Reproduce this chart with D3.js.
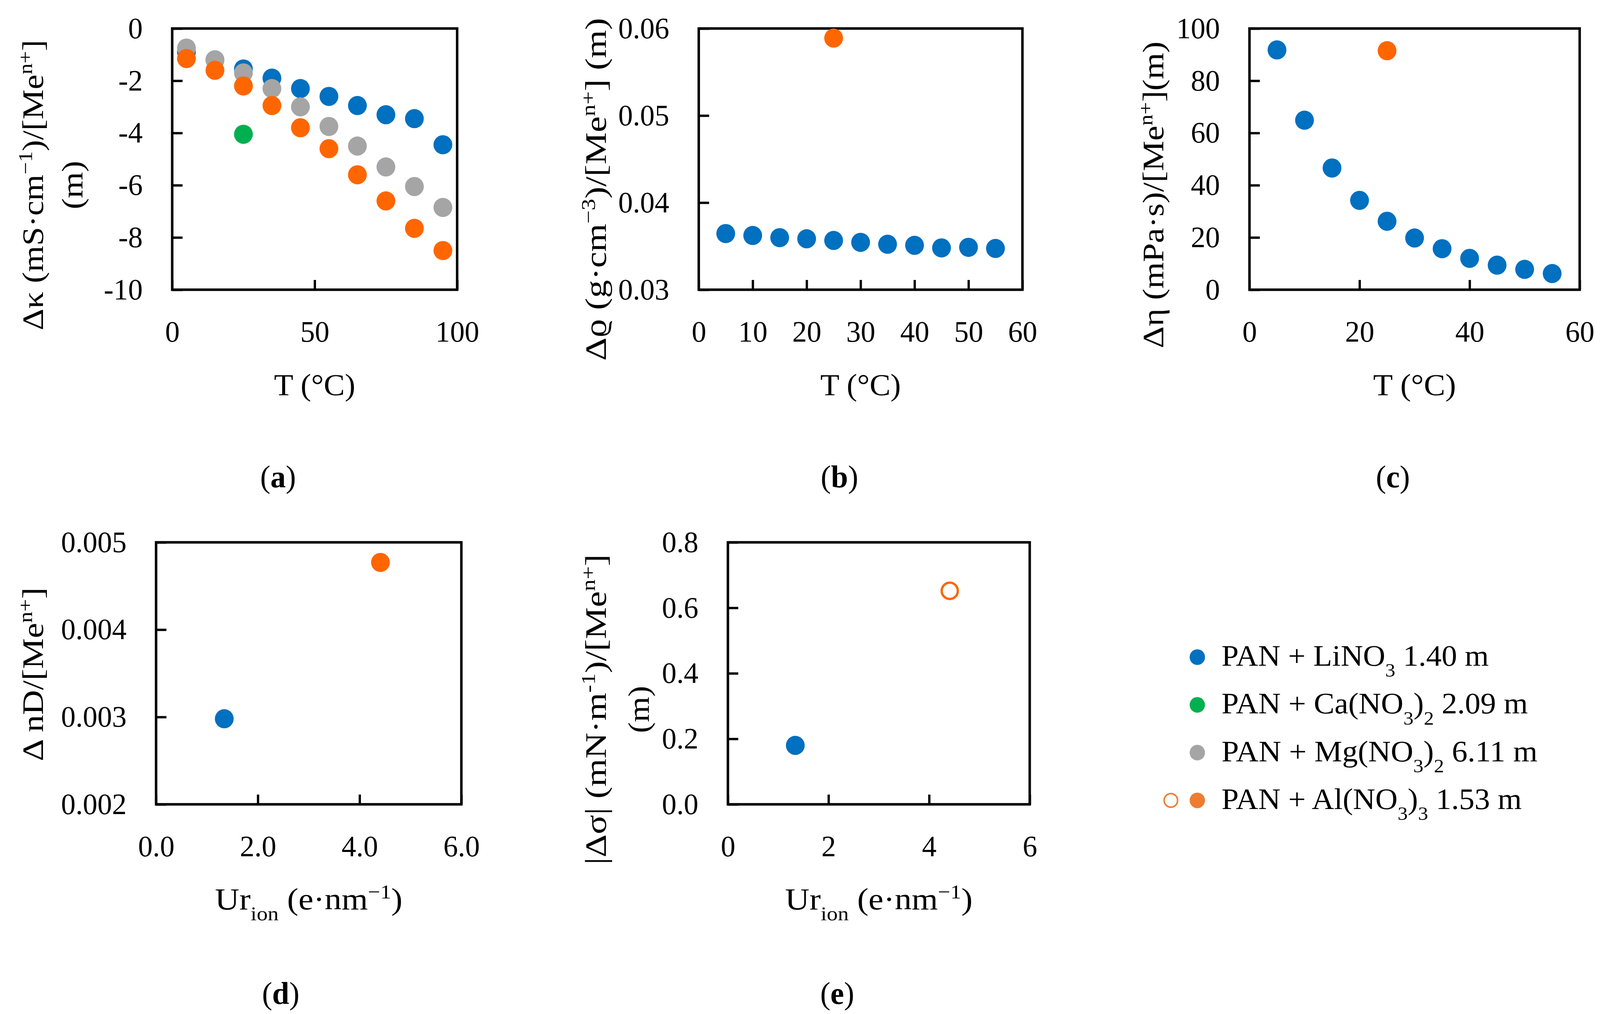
<!DOCTYPE html>
<html>
<head>
<meta charset="utf-8">
<script src="https://cdn.jsdelivr.net/npm/d3@7"></script>
<style>
  html, body { margin: 0; padding: 0; background: #fff; overflow: hidden; }
  svg { display: block; }
  text { font-family: "Liberation Serif", "DejaVu Serif", serif; fill: #000; }
</style>
</head>
<body>
<div id="chart"></div>
<script>
// (a) conductivity vs T
const tempK   = [5, 15, 25, 35, 45, 55, 65, 75, 85, 95];
const kappaLi = [-0.9, -1.2, -1.55, -1.9, -2.3, -2.6, -2.95, -3.3, -3.45, -4.45];
const kappaMg = [-0.75, -1.2, -1.7, -2.3, -3.0, -3.75, -4.5, -5.3, -6.05, -6.85];
const kappaAl = [-1.15, -1.6, -2.2, -2.95, -3.8, -4.6, -5.6, -6.6, -7.65, -8.5];
const tempCa  = [25];
const kappaCa = [-4.05];

// (b) density, (c) viscosity vs T
const tempT  = [5, 10, 15, 20, 25, 30, 35, 40, 45, 50, 55];
const rhoLi  = [0.03645, 0.03623, 0.03598, 0.03585, 0.03566, 0.03544, 0.03522, 0.0351, 0.0348, 0.03487, 0.03474];
const etaLi  = [91.8, 64.9, 46.6, 34.2, 26.2, 19.8, 15.7, 12.0, 9.4, 7.8, 6.2];
const tempAl = [25];
const rhoAl  = [0.0589];
const etaAl  = [91.5];

// (d) refractive index, (e) surface tension vs Ur_ion
const urLi    = [1.34];
const urAl    = [4.41];
const nDLi    = [0.00298];
const nDAl    = [0.00477];
const sigmaLi = [0.18];
const sigmaAl = [0.652];

// tick values
const ticksKx = [0, 50, 100];
const ticksKy = [0, -2, -4, -6, -8, -10];
const ticksRx = [0, 10, 20, 30, 40, 50, 60];
const ticksRy = [0.03, 0.04, 0.05, 0.06];
const ticksEx = [0, 20, 40, 60];
const ticksEy = [0, 20, 40, 60, 80, 100];
const ticksUx = [0, 2, 4, 6];
const ticksNy = [0.002, 0.003, 0.004, 0.005];
const ticksSy = [0, 0.2, 0.4, 0.6, 0.8];

const legendLabels = [
  [["PAN + LiNO"], ["3", "sub"], [" 1.40 m"]],
  [["PAN + Ca(NO"], ["3", "sub"], [")"], ["2", "sub"], [" 2.09 m"]],
  [["PAN + Mg(NO"], ["3", "sub"], [")"], ["2", "sub"], [" 6.11 m"]],
  [["PAN + Al(NO"], ["3", "sub"], [")"], ["3", "sub"], [" 1.53 m"]]
];

const blue = "#0070C0", green = "#00B050", grey = "#A5A5A5", orange = "#FF6600";
const tickFont = 76, titleFont = 78;

// drawn in 4172x2597 units, stretched onto whatever the window is
const svg = d3.select("#chart").append("svg")
    .attr("viewBox", "0 0 4172 2597")
    .attr("preserveAspectRatio", "none")
    .style("width", "100vw")
    .style("height", "100vh");

svg.append("rect").attr("width", 4172).attr("height", 2597).attr("fill", "#fff");

// text with sub/superscript pieces
function rich(sel, parts, size) {
  parts.forEach(p => {
    let t = sel.append("tspan").text(p[0]);
    if (p[1] === "sup") t.attr("font-size", size * 0.65).attr("baseline-shift", "super");
    if (p[1] === "sub") t.attr("font-size", size * 0.65).attr("baseline-shift", "sub");
    if (p[1] === "bold") t.attr("font-weight", "bold");
  });
  return sel;
}

function panel(cfg) {
  let g = svg.append("g");
  let x = d3.scaleLinear().domain(cfg.xDomain).range([cfg.left, cfg.right]);
  let y = d3.scaleLinear().domain(cfg.yDomain).range([cfg.bottom, cfg.top]);

  g.append("rect")
      .attr("x", cfg.left)
      .attr("y", cfg.top)
      .attr("width", cfg.right - cfg.left)
      .attr("height", cfg.bottom - cfg.top)
      .attr("fill", "none")
      .attr("stroke", "#000")
      .attr("stroke-width", 6.5);

  let xAxis = g.append("g")
      .attr("transform", `translate(0, ${cfg.bottom})`)
      .call(d3.axisBottom(x).tickValues(cfg.xTicks).tickFormat(cfg.xFormat)
        .tickSizeInner(-25).tickSizeOuter(0).tickPadding(79));
  let yAxis = g.append("g")
      .attr("transform", `translate(${cfg.left}, 0)`)
      .call(d3.axisLeft(y).tickValues(cfg.yTicks).tickFormat(cfg.yFormat)
        .tickSizeInner(-27).tickSizeOuter(0).tickPadding(77));

  [xAxis, yAxis].forEach(a => {
    a.select(".domain").remove();
    a.selectAll("line").attr("stroke", "#000").attr("stroke-width", 6);
    a.selectAll("text")
        .attr("font-family", "Liberation Serif, DejaVu Serif, serif")
        .attr("font-size", tickFont)
        .attr("fill", "#000");
  });

  cfg.series.forEach(s => {
    g.selectAll(null)
      .data(s.x.map((v, i) => [v, s.y[i]]))
      .enter()
      .append("circle")
        .attr("cx", d => x(d[0]))
        .attr("cy", d => y(d[1]))
        .attr("r", s.open ? 21 : 24.5)
        .attr("fill", s.open ? "#fff" : s.color)
        .attr("stroke", s.open ? s.color : "none")
        .attr("stroke-width", s.open ? 6 : 0);
  });

  // x title
  rich(g.append("text")
      .attr("x", (cfg.left + cfg.right) / 2 - cfg.xLen / 2)
      .attr("y", cfg.xTitleY)
      .attr("font-size", titleFont)
      .attr("textLength", cfg.xLen)
      .attr("lengthAdjust", "spacingAndGlyphs"), cfg.xTitle, titleFont);

  // y title, one or two rotated lines
  cfg.yTitle.forEach(line => {
    rich(g.append("text")
        .attr("transform", `translate(${line.x}, ${cfg.yTitleC}) rotate(-90)`)
        .attr("x", -line.len / 2)
        .attr("y", 0)
        .attr("font-size", titleFont)
        .attr("textLength", line.len)
        .attr("lengthAdjust", "spacingAndGlyphs"), line.parts, titleFont);
  });

  // panel label
  g.append("text")
      .attr("x", cfg.labelX)
      .attr("y", cfg.labelY)
      .attr("text-anchor", "middle")
      .attr("font-size", 80)
      .call(t => rich(t, [["("], [cfg.label, "bold"], [")"]], 80));
}

const tTitle = [["T (°C)"]];
const urTitle = [["Ur"], ["ion", "sub"], [" (e·nm"], ["−1", "sup"], [")"]];

panel({
  left: 449, right: 1192, top: 73, bottom: 742,
  xDomain: [0, 100], yDomain: [-10, 0],
  xTicks: ticksKx, yTicks: ticksKy,
  xFormat: d3.format("d"), yFormat: d => String(d),
  series: [
    { x: tempK, y: kappaLi, color: blue },
    { x: tempCa, y: kappaCa, color: green },
    { x: tempK, y: kappaMg, color: grey },
    { x: tempK, y: kappaAl, color: orange }
  ],
  xTitle: tTitle, xLen: 212, xTitleY: 1012,
  yTitleC: 474,
  yTitle: [
    { x: 112, len: 744, parts: [["Δκ (mS·cm"], ["−1", "sup"], [")/[Me"], ["n+", "sup"], ["]"]] },
    { x: 215, len: 124, parts: [["(m)"]] }
  ],
  label: "a", labelX: 725, labelY: 1248
});

panel({
  left: 1822, right: 2666, top: 73, bottom: 742,
  xDomain: [0, 60], yDomain: [0.03, 0.06],
  xTicks: ticksRx, yTicks: ticksRy,
  xFormat: d3.format("d"), yFormat: d3.format(".2f"),
  series: [
    { x: tempT, y: rhoLi, color: blue },
    { x: tempAl, y: rhoAl, color: orange }
  ],
  xTitle: tTitle, xLen: 210, xTitleY: 1012,
  yTitleC: 485,
  yTitle: [
    { x: 1580, len: 878, parts: [["Δϱ (g·cm"], ["−3", "sup"], [")/[Me"], ["n+", "sup"], ["] (m)"]] }
  ],
  label: "b", labelX: 2189, labelY: 1248
});

panel({
  left: 3258, right: 4119, top: 73, bottom: 742,
  xDomain: [0, 60], yDomain: [0, 100],
  xTicks: ticksEx, yTicks: ticksEy,
  xFormat: d3.format("d"), yFormat: d3.format("d"),
  series: [
    { x: tempT, y: etaLi, color: blue },
    { x: tempAl, y: etaAl, color: orange }
  ],
  xTitle: tTitle, xLen: 216, xTitleY: 1012,
  yTitleC: 499,
  yTitle: [
    { x: 3033, len: 786, parts: [["Δη (mPa·s)/[Me"], ["n+", "sup"], ["](m)"]] }
  ],
  label: "c", labelX: 3632, labelY: 1248
});

panel({
  left: 407, right: 1203, top: 1389, bottom: 2060,
  xDomain: [0, 6], yDomain: [0.002, 0.005],
  xTicks: ticksUx, yTicks: ticksNy,
  xFormat: d3.format(".1f"), yFormat: d3.format(".3f"),
  series: [
    { x: urLi, y: nDLi, color: blue },
    { x: urAl, y: nDAl, color: orange }
  ],
  xTitle: urTitle, xLen: 489, xTitleY: 2329,
  yTitleC: 1727,
  yTitle: [
    { x: 112, len: 445, parts: [["Δ nD/[Me"], ["n+", "sup"], ["]"]] }
  ],
  label: "d", labelX: 732, labelY: 2571
});

panel({
  left: 1898, right: 2685, top: 1389, bottom: 2060,
  xDomain: [0, 6], yDomain: [0, 0.8],
  xTicks: ticksUx, yTicks: ticksSy,
  xFormat: d3.format("d"), yFormat: d3.format(".1f"),
  series: [
    { x: urLi, y: sigmaLi, color: blue },
    { x: urAl, y: sigmaAl, color: orange, open: true }
  ],
  xTitle: urTitle, xLen: 489, xTitleY: 2329,
  yTitleC: 1817,
  yTitle: [
    { x: 1580, len: 795, parts: [["|Δσ|  (mN·m"], ["-1", "sup"], [")/[Me"], ["n+", "sup"], ["]"]] },
    { x: 1692, len: 121, parts: [["(m)"]] }
  ],
  label: "e", labelX: 2183, labelY: 2571
});

// legend
const legendColors = [blue, green, grey, "#ED7D31"];
const legendLens = [697, 799, 824, 783];
let legend = svg.append("g");
legendLabels.forEach((parts, i) => {
  let cy = 1683 + i * 122.3;
  legend.append("circle")
      .attr("cx", 3122).attr("cy", cy).attr("r", 20)
      .attr("fill", legendColors[i]);
  if (i === 3) {
    legend.append("circle")
        .attr("cx", 3053).attr("cy", cy).attr("r", 17.5)
        .attr("fill", "#fff")
        .attr("stroke", legendColors[i])
        .attr("stroke-width", 4);
  }
  rich(legend.append("text")
      .attr("x", 3185)
      .attr("y", cy + 22)
      .attr("font-size", 76)
      .attr("textLength", legendLens[i])
      .attr("lengthAdjust", "spacingAndGlyphs"), parts, 76);
});
</script>
</body>
</html>
